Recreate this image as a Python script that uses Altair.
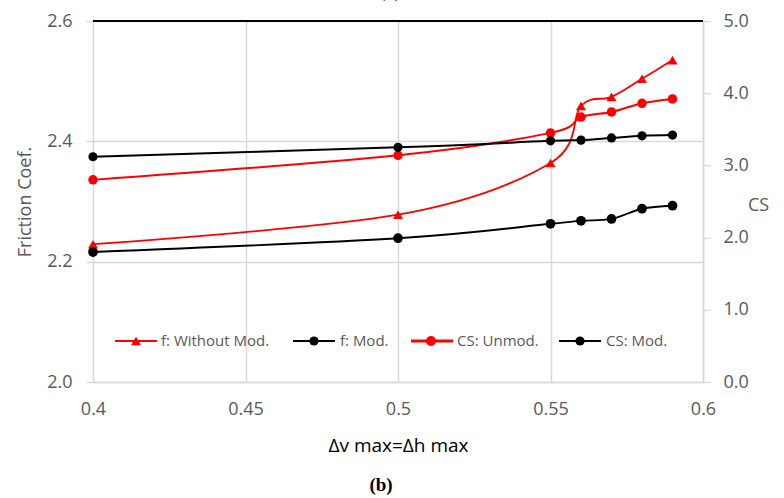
import altair as alt
import pandas as pd

# Δv max = Δh max values on the x axis
x_vals = [0.4, 0.5, 0.55, 0.56, 0.57, 0.58, 0.59]

# Friction coefficient (left axis)
f_without_mod = [2.229, 2.278, 2.364, 2.459, 2.474, 2.504, 2.535]
f_mod = [2.216, 2.239, 2.263, 2.268, 2.271, 2.288, 2.293]

# CS (right axis)
cs_unmod = [2.80, 3.14, 3.45, 3.67, 3.74, 3.86, 3.92]
cs_mod = [3.12, 3.25, 3.34, 3.35, 3.38, 3.41, 3.42]

series_names = ["f: Without Mod.", "f: Mod.", "CS: Unmod.", "CS: Mod."]
series_colors = ["#FF0000", "#000000", "#FF0000", "#000000"]
series_shapes = ["triangle-up", "circle", "circle", "circle"]
series_widths = [1.8, 2.0, 3.2, 2.0]
series_sizes = [100, 85, 100, 85]

x_ticks = [0.4, 0.45, 0.5, 0.55, 0.6]
left_ticks = [2.0, 2.2, 2.4, 2.6]
right_ticks = [0.0, 1.0, 2.0, 3.0, 4.0, 5.0]

W, H = 610, 361
FONT = "Open Sans"
GREY_TXT = "#595959"
GRID = "#D9D9D9"


def long_frame(names, columns):
    rows = []
    for name, vals in zip(names, columns):
        for i, (xv, yv) in enumerate(zip(x_vals, vals)):
            rows.append({"x": xv, "value": yv, "series": name, "order": i})
    return pd.DataFrame(rows)


f_df = long_frame(series_names[:2], [f_without_mod, f_mod])
cs_df = long_frame(series_names[2:], [cs_unmod, cs_mod])

x_enc = alt.X(
    "x:Q",
    scale=alt.Scale(domain=[0.4, 0.6], nice=False, zero=False),
    axis=alt.Axis(
        values=x_ticks, format=".2~f", title="Δv max=Δh max",
        grid=True, gridColor=GRID, gridWidth=1.5,
        domain=True, domainColor=GRID, domainWidth=1.5,
        ticks=False, labelPadding=18, labelFlush=False, labelFontSize=18, labelFont=FONT,
        labelColor=GREY_TXT, titleFont=FONT, titleFontSize=19,
        titleFontWeight="normal", titleColor="#000000",
        titleX=W / 2, titleY=63, titleBaseline="middle", titleAlign="center",
    ),
)

color_enc = alt.Color(
    "series:N", scale=alt.Scale(domain=series_names, range=series_colors), legend=None
)
shape_enc = alt.Shape(
    "series:N", scale=alt.Scale(domain=series_names, range=series_shapes), legend=None
)
width_enc = alt.StrokeWidth(
    "series:N", scale=alt.Scale(domain=series_names, range=series_widths), legend=None
)
size_enc = alt.Size(
    "series:N", scale=alt.Scale(domain=series_names, range=series_sizes), legend=None
)

left_axis = alt.Axis(
    values=left_ticks, format=".1f", title="Friction Coef.",
    grid=True, gridColor=GRID, gridWidth=1.5,
    domain=False, ticks=True, tickColor=GRID, tickSize=7, tickWidth=1.5,
    labelPadding=14, labelFontSize=18, labelFont=FONT, labelColor=GREY_TXT,
    titleFont=FONT, titleFontSize=18, titleFontWeight="normal", titleColor=GREY_TXT,
    titleX=-68, titleY=H / 2, titleAngle=270, titleAlign="center", titleBaseline="middle",
)
right_axis = alt.Axis(
    values=right_ticks, format=".1f", title="CS", orient="right",
    grid=False, domain=True, domainColor=GRID, domainWidth=1.5,
    ticks=True, tickColor=GRID, tickSize=7, tickWidth=1.5,
    labelPadding=13, labelFontSize=18, labelFont=FONT, labelColor=GREY_TXT,
    titleFont=FONT, titleFontSize=18, titleFontWeight="normal", titleColor=GREY_TXT,
    titleX=55, titleY=184, titleAngle=0, titleAlign="center", titleBaseline="middle",
)

left_scale = alt.Scale(domain=[2.0, 2.6], nice=False, zero=False)
y_left = alt.Y("value:Q", scale=left_scale, axis=left_axis)
y_right = alt.Y("value:Q", scale=alt.Scale(domain=[0.0, 5.0], nice=False, zero=False), axis=right_axis)


def side_layers(df, y_enc):
    base = alt.Chart(df)
    lines = base.mark_line(interpolate="cardinal", tension=0).encode(
        x=x_enc, y=y_enc, color=color_enc, strokeWidth=width_enc,
        detail="series:N", order="order:Q",
    )
    pts = base.mark_point(filled=True, opacity=1).encode(
        x=x_enc, y=y_enc, color=color_enc, shape=shape_enc, size=size_enc,
    )
    return lines, pts


f_lines, f_pts = side_layers(f_df, y_left)
cs_lines, cs_pts = side_layers(cs_df, y_right)

# black frame line along the top of the plot (2.6 level)
top_rule = alt.Chart(pd.DataFrame({"value": [left_ticks[-1]]})).mark_rule(
    color="#000000", strokeWidth=2
).encode(y=y_left)

left_side = alt.layer(f_lines, top_rule, f_pts)
right_side = alt.layer(cs_lines, cs_pts)

# in-plot legend: line sample, marker and label for each series
legend_slots = [(22, 64, 43, 68), (200, 242, 221, 247), (318, 360, 338, 364), (466, 508, 487, 513)]
LEG_Y = 320
legend_layers = []
for name, col, shp, sw, sz, (x0, x1, xm, xt) in zip(
    series_names, series_colors, series_shapes, series_widths, series_sizes, legend_slots
):
    one = alt.Chart(pd.DataFrame({"label": [name]}))
    legend_layers.append(
        one.mark_rule(color=col, strokeWidth=sw).encode(
            x=alt.value(x0), x2=alt.value(x1), y=alt.value(LEG_Y)
        )
    )
    legend_layers.append(
        one.mark_point(shape=shp, filled=True, opacity=1, color=col, size=sz).encode(
            x=alt.value(xm), y=alt.value(LEG_Y)
        )
    )
    legend_layers.append(
        one.mark_text(align="left", baseline="middle", font=FONT, fontSize=15, color=GREY_TXT).encode(
            x=alt.value(xt), y=alt.value(LEG_Y), text="label:N"
        )
    )

captions = alt.Chart(pd.DataFrame({"cap": ["(b)"]})).mark_text(
    font="Liberation Serif", fontSize=19, fontWeight="bold", color="#000000",
    align="center", baseline="middle",
).encode(x=alt.value(288), y=alt.value(464), text="cap:N")

prev_caption = alt.Chart(pd.DataFrame({"cap": ["(a)"]})).mark_text(
    font="Liberation Serif", fontSize=19, fontWeight="bold", color="#000000",
    align="center", baseline="alphabetic",
).encode(x=alt.value(297), y=alt.value(-24), text="cap:N")

chart = (
    alt.layer(left_side, right_side, *legend_layers, captions, prev_caption)
    .resolve_scale(y="independent")
    .properties(
        width=W, height=H,
        autosize=alt.AutoSizeParams(type="none"),
        padding={"left": 93, "top": 21, "right": 81, "bottom": 116},
        background="#FFFFFF",
    )
    .configure_view(stroke=None)
)

chart.save("out.html", embed_options={"renderer": "svg", "actions": False})
